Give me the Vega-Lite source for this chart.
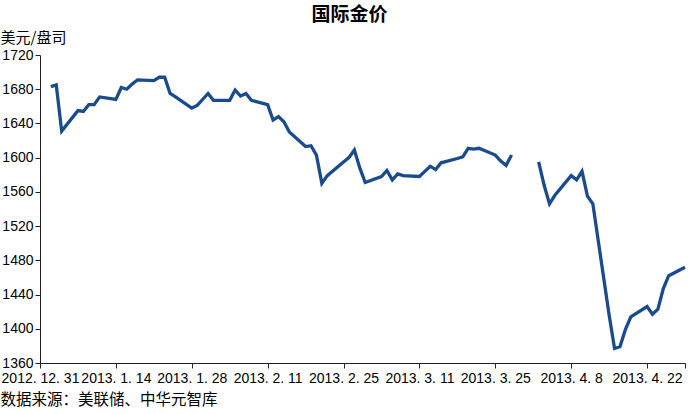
{
  "$schema": "https://vega.github.io/schema/vega-lite/v6.json",
  "autosize": {"type": "none"},
  "width": 645,
  "height": 308,
  "padding": {"left": 40, "top": 55, "right": 15, "bottom": 51},
  "background": "white",
  "title": {
    "text": "国际金价",
    "font": "Noto Sans CJK SC",
    "fontSize": 19,
    "fontWeight": "bold",
    "color": "black",
    "anchor": "middle",
    "dx": -13,
    "offset": 6
  },
  "data": {
    "values": [
      {"date": "2013/01/02", "price": 1683},
      {"date": "2013/01/03", "price": 1685},
      {"date": "2013/01/04", "price": 1631},
      {"date": "2013/01/07", "price": 1655},
      {"date": "2013/01/08", "price": 1654},
      {"date": "2013/01/09", "price": 1662},
      {"date": "2013/01/10", "price": 1662},
      {"date": "2013/01/11", "price": 1671},
      {"date": "2013/01/14", "price": 1668},
      {"date": "2013/01/15", "price": 1682},
      {"date": "2013/01/16", "price": 1680},
      {"date": "2013/01/17", "price": 1686},
      {"date": "2013/01/18", "price": 1691},
      {"date": "2013/01/21", "price": 1690},
      {"date": "2013/01/22", "price": 1694},
      {"date": "2013/01/23", "price": 1694},
      {"date": "2013/01/24", "price": 1675},
      {"date": "2013/01/25", "price": 1671},
      {"date": "2013/01/28", "price": 1658},
      {"date": "2013/01/29", "price": 1661},
      {"date": "2013/01/30", "price": 1668},
      {"date": "2013/01/31", "price": 1675},
      {"date": "2013/02/01", "price": 1667},
      {"date": "2013/02/04", "price": 1667},
      {"date": "2013/02/05", "price": 1679},
      {"date": "2013/02/06", "price": 1672},
      {"date": "2013/02/07", "price": 1675},
      {"date": "2013/02/08", "price": 1667},
      {"date": "2013/02/11", "price": 1662},
      {"date": "2013/02/12", "price": 1644},
      {"date": "2013/02/13", "price": 1648},
      {"date": "2013/02/14", "price": 1642},
      {"date": "2013/02/15", "price": 1630},
      {"date": "2013/02/18", "price": 1613},
      {"date": "2013/02/19", "price": 1614},
      {"date": "2013/02/20", "price": 1603},
      {"date": "2013/02/21", "price": 1570},
      {"date": "2013/02/22", "price": 1579},
      {"date": "2013/02/25", "price": 1595},
      {"date": "2013/02/26", "price": 1600},
      {"date": "2013/02/27", "price": 1609},
      {"date": "2013/02/28", "price": 1588},
      {"date": "2013/03/01", "price": 1571},
      {"date": "2013/03/04", "price": 1578},
      {"date": "2013/03/05", "price": 1585},
      {"date": "2013/03/06", "price": 1574},
      {"date": "2013/03/07", "price": 1581},
      {"date": "2013/03/08", "price": 1579},
      {"date": "2013/03/11", "price": 1578},
      {"date": "2013/03/12", "price": 1584},
      {"date": "2013/03/13", "price": 1590},
      {"date": "2013/03/14", "price": 1586},
      {"date": "2013/03/15", "price": 1594},
      {"date": "2013/03/18", "price": 1599},
      {"date": "2013/03/19", "price": 1601},
      {"date": "2013/03/20", "price": 1611},
      {"date": "2013/03/21", "price": 1610},
      {"date": "2013/03/22", "price": 1611},
      {"date": "2013/03/25", "price": 1603},
      {"date": "2013/03/26", "price": 1596},
      {"date": "2013/03/27", "price": 1591},
      {"date": "2013/03/28", "price": 1603},
      {"date": "2013/03/29", "price": null},
      {"date": "2013/04/01", "price": null},
      {"date": "2013/04/02", "price": 1595},
      {"date": "2013/04/03", "price": 1568},
      {"date": "2013/04/04", "price": 1546},
      {"date": "2013/04/05", "price": 1556},
      {"date": "2013/04/08", "price": 1579},
      {"date": "2013/04/09", "price": 1574},
      {"date": "2013/04/10", "price": 1584},
      {"date": "2013/04/11", "price": 1555},
      {"date": "2013/04/12", "price": 1546},
      {"date": "2013/04/15", "price": 1416},
      {"date": "2013/04/16", "price": 1377},
      {"date": "2013/04/17", "price": 1379},
      {"date": "2013/04/18", "price": 1399},
      {"date": "2013/04/19", "price": 1414},
      {"date": "2013/04/22", "price": 1426},
      {"date": "2013/04/23", "price": 1417},
      {"date": "2013/04/24", "price": 1423},
      {"date": "2013/04/25", "price": 1447},
      {"date": "2013/04/26", "price": 1462},
      {"date": "2013/04/29", "price": 1472}
    ]
  },
  "mark": {
    "type": "line",
    "color": "#1a4b8c",
    "strokeWidth": 3.3,
    "invalid": "break-paths-show-domains"
  },
  "encoding": {
    "x": {
      "field": "date",
      "type": "temporal",
      "scale": {
        "domain": [
          {"year": 2012, "month": 12, "date": 31},
          {"year": 2013, "month": 4, "date": 29}
        ]
      },
      "axis": {
        "values": [
          {"year": 2012, "month": 12, "date": 31},
          {"year": 2013, "month": 1, "date": 14},
          {"year": 2013, "month": 1, "date": 28},
          {"year": 2013, "month": 2, "date": 11},
          {"year": 2013, "month": 2, "date": 25},
          {"year": 2013, "month": 3, "date": 11},
          {"year": 2013, "month": 3, "date": 25},
          {"year": 2013, "month": 4, "date": 8},
          {"year": 2013, "month": 4, "date": 22},
          {"year": 2013, "month": 4, "date": 29}
        ],
        "labelExpr": "month(datum.value) == 3 && date(datum.value) == 29 ? '' : timeFormat(datum.value, '%Y. %-m. %-d')",
        "grid": false,
        "domainColor": "#222222",
        "tickColor": "#222222",
        "tickSize": 5,
        "labelPadding": 3,
        "labelFont": "Liberation Sans",
        "labelFontSize": 14,
        "labelColor": "black",
        "labelOverlap": false,
        "labelFlush": false,
        "title": "数据来源：美联储、中华元智库",
        "titleFont": "Noto Sans CJK SC",
        "titleFontSize": 15.5,
        "titleFontWeight": "normal",
        "titleColor": "black",
        "titleAlign": "left",
        "titleAnchor": "start",
        "titleBaseline": "middle",
        "titleX": -40,
        "titleY": 36
      }
    },
    "y": {
      "field": "price",
      "type": "quantitative",
      "scale": {"domain": [1360, 1720], "zero": false, "nice": false},
      "axis": {
        "values": [1360, 1400, 1440, 1480, 1520, 1560, 1600, 1640, 1680, 1720],
        "format": "d",
        "grid": false,
        "domainColor": "#222222",
        "tickColor": "#222222",
        "tickSize": 5,
        "labelPadding": 2,
        "labelFont": "Liberation Sans",
        "labelFontSize": 14,
        "labelColor": "black",
        "labelOverlap": false,
        "labelFlush": false,
        "title": "美元/盘司",
        "titleFont": "Noto Sans CJK SC",
        "titleFontSize": 15,
        "titleFontWeight": "normal",
        "titleColor": "black",
        "titleAngle": 0,
        "titleAlign": "left",
        "titleBaseline": "middle",
        "titleX": -40,
        "titleY": -17.5
      }
    }
  },
  "config": {
    "view": {"stroke": null}
  }
}
